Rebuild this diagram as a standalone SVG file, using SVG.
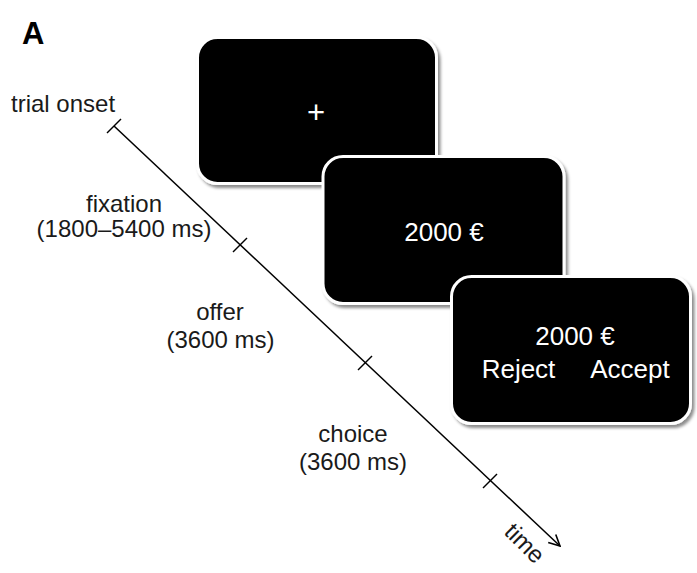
<svg xmlns="http://www.w3.org/2000/svg" width="697" height="573" viewBox="0 0 697 573">
<defs>
<filter id="sh" x="-10%" y="-10%" width="125%" height="125%">
<feDropShadow dx="2.5" dy="3" stdDeviation="1.8" flood-color="#000" flood-opacity="0.45"/>
</filter>
<marker id="arr" viewBox="0 0 14 14" refX="13" refY="7" markerWidth="14" markerHeight="14" markerUnits="userSpaceOnUse" orient="auto">
<path d="M2,1.5 L13,7 L2,12.5" fill="none" stroke="#000" stroke-width="1.6"/>
</marker>
<style>
.scr{fill:#000;stroke:#fff;stroke-width:3;filter:url(#sh)}
.t{font-family:"Liberation Sans",Arial,sans-serif;font-size:24px;fill:#1a1a1a}
.w{font-family:"Liberation Sans",Arial,sans-serif;font-size:26px;fill:#fff;text-anchor:middle}
.c{text-anchor:middle}
.ax{stroke:#000;stroke-width:1.5;fill:none}
</style>
</defs>
<rect width="697" height="573" fill="#fff"/>
<text x="22" y="44" style="font-family:'Liberation Sans',Arial,sans-serif;font-size:31px;font-weight:bold">A</text>
<g id="screen-fixation">
<rect class="scr" x="197.5" y="37.5" width="239" height="146" rx="20"/>
<text class="w" x="316" y="123" style="font-size:31px">+</text>
</g>
<g id="screen-offer">
<rect class="scr" x="323" y="156.5" width="241" height="147" rx="20"/>
<text class="w" x="444" y="241">2000 €</text>
</g>
<g id="screen-choice">
<rect class="scr" x="451.5" y="276.5" width="239" height="147" rx="20"/>
<text class="w" x="575" y="345">2000 €</text>
<text class="w" x="518.5" y="378">Reject</text>
<text class="w" x="630" y="378">Accept</text>
</g>
<g id="connectors">
<line class="ax" x1="114" y1="126" x2="560" y2="546" marker-end="url(#arr)"/>
<line class="ax" x1="107" y1="133" x2="121" y2="119"/>
<line class="ax" x1="233" y1="252" x2="247" y2="238"/>
<line class="ax" x1="358" y1="370" x2="372" y2="356"/>
<line class="ax" x1="483" y1="488" x2="497" y2="474"/>
</g>
<g id="labels">
<text class="t" x="11" y="112">trial onset</text>
<text class="t c" x="124" y="212">fixation</text>
<text class="t c" x="124" y="237">(1800–5400 ms)</text>
<text class="t c" x="220" y="320">offer</text>
<text class="t c" x="220.5" y="348">(3600 ms)</text>
<text class="t c" x="353" y="442">choice</text>
<text class="t c" x="353" y="470">(3600 ms)</text>
<text class="t c" transform="translate(519,549) rotate(45)" x="0" y="0">time</text>
</g>
</svg>
